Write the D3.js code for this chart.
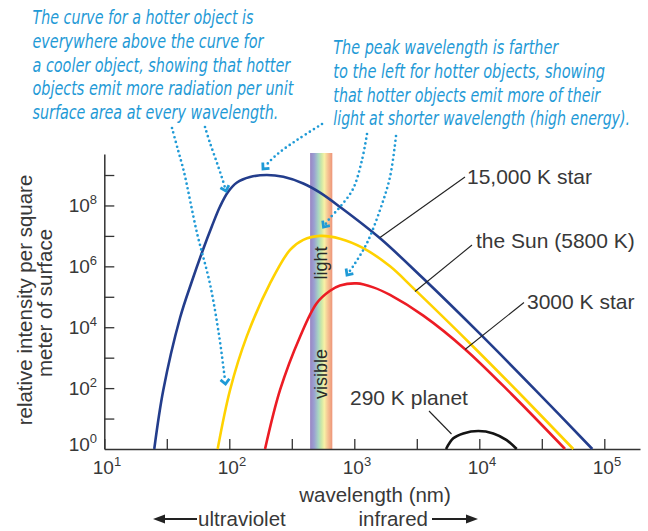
<!DOCTYPE html>
<html><head><meta charset="utf-8">
<script src="https://cdn.jsdelivr.net/npm/d3@7"></script>
<style>html,body{margin:0;padding:0;background:#fff;} svg{display:block;}</style>
</head><body>
<svg id="chart" width="648" height="531"></svg>
<script>
// ---------- data ----------
const hotWavelength  = [25.1, 29.65, 40.33, 50.3, 61.9, 72.7, 84.3, 97.6, 115.2, 146.4, 199.1, 270.4, 390.8, 532, 769, 1607, 3565, 10140, 28380, 80170];
const hotIntensity   = [1, 86.8, 2.01e4, 3.30e5, 3.72e6, 2.12e7, 9.25e7, 2.77e8, 5.69e8, 8.63e8, 1.0e9, 8.71e8, 5.25e8, 2.63e8, 8.91e7, 8.32e6, 3.98e5, 6026, 83, 1];
const sunWavelength  = [80.7, 101.4, 137.7, 211.8, 306.2, 390.8, 532, 769, 1180, 1932, 3006, 8954, 22390, 56490];
const sunIntensity   = [1, 87, 4898, 2.75e5, 3.47e6, 7.41e6, 1.0e7, 8.13e6, 3.98e6, 1.0e6, 1.82e5, 2291, 51, 1];
const coolWavelength = [193.2, 254.7, 368.1, 500, 639.7, 769, 1045, 1419, 1932, 3565, 7691, 18160, 48530];
const coolIntensity  = [1, 87, 4898, 6.17e4, 1.58e5, 2.34e5, 2.75e5, 2.04e5, 1.15e5, 2.40e4, 1905, 63, 1];
const planetWavelength = [5420, 6194, 7447, 9817, 12940, 16560, 19910];
const planetIntensity  = [1, 2.24, 3.24, 3.89, 3.24, 1.95, 1];

const seriesNames  = ["15,000 K star", "the Sun (5800 K)", "3000 K star", "290 K planet"];
const seriesColors = ["#233d8c", "#ffd200", "#ec1c24", "#141414"];

const xLabelExponents = [1, 2, 3, 4, 5];
const xTickValues = [10, 31.62, 100, 316.2, 1000, 3162, 10000, 31620, 100000];
const yLabelExponents = [0, 2, 4, 6, 8];
const yTickValues = [10, 100, 1e3, 1e4, 1e5, 1e6, 1e7, 1e8, 1e9];
const visibleRange = [443, 667];

const noteLeft = ["The curve for a hotter object is", "everywhere above the curve for", "a cooler object, showing that hotter", "objects emit more radiation per unit", "surface area at every wavelength."];
const noteRight = ["The peak wavelength is farther", "to the left for hotter objects, showing", "that hotter objects emit more of their", "light at shorter wavelength (high energy)."];

// ---------- layout ----------
const svg = d3.select('#chart');
const FONT = "'Liberation Sans', Arial, Helvetica, sans-serif";
const TEXT = "#383838";
const NOTE = "#1f9ad6";
const x = d3.scaleLog().domain([10, 193000]).range([104.3, 640]);
const y = d3.scaleLog().domain([1, 4.9e9]).range([449, 154]);

// visible band gradient
const defs = svg.append('defs');
const grad = defs.append('linearGradient').attr('id', 'vis').attr('x1', 0).attr('x2', 1).attr('y1', 0).attr('y2', 0);
[["0", "#9a86c2"], ["0.18", "#9aa0d2"], ["0.38", "#a9d8c0"], ["0.52", "#cfe8a6"], ["0.64", "#f7f1a6"], ["0.8", "#f6c393"], ["1", "#ee9479"]]
  .forEach(s => grad.append('stop').attr('offset', s[0]).attr('stop-color', s[1]));

svg.append('rect')
  .attr('x', x(visibleRange[0])).attr('width', x(visibleRange[1]) - x(visibleRange[0]))
  .attr('y', 153).attr('height', 449 - 153)
  .attr('fill', 'url(#vis)');

const bandMid = (x(visibleRange[0]) + x(visibleRange[1])) / 2;
[["light", 263], ["visible", 374]].forEach(([t, cy]) => {
  svg.append('text').attr('transform', `translate(${bandMid + 6},${cy}) rotate(-90)`)
    .attr('text-anchor', 'middle').attr('font-family', FONT).attr('font-size', 18)
    .attr('fill', '#2a2a2a').text(t);
});

// axes
const gx = svg.append('g').attr('transform', 'translate(0,449)')
  .call(d3.axisTop(x).tickValues(xTickValues).tickSize(10).tickSizeOuter(0).tickFormat(''));
const gy = svg.append('g').attr('transform', 'translate(104.3,0)')
  .call(d3.axisRight(y).tickValues(yTickValues).tickSize(10).tickSizeOuter(0).tickFormat(''));
[gx, gy].forEach(g => {
  g.select('.domain').attr('stroke', '#333').attr('stroke-width', 1.5);
  g.selectAll('.tick line').attr('stroke', '#333').attr('stroke-width', 1.3);
});

// tick labels
yLabelExponents.forEach(e => {
  const t = svg.append('text').attr('x', 97).attr('y', y(Math.pow(10, e)) + 7 - (e === 0 ? 5 : 0))
    .attr('text-anchor', 'end').attr('font-family', FONT).attr('font-size', 19).attr('fill', TEXT);
  t.append('tspan').text('10');
  t.append('tspan').attr('dy', -8).attr('font-size', 13).text(e);
});
xLabelExponents.forEach(e => {
  const t = svg.append('text').attr('x', x(Math.pow(10, e)) - 11.5).attr('y', 474)
    .attr('font-family', FONT).attr('font-size', 19).attr('fill', TEXT);
  t.append('tspan').text('10');
  t.append('tspan').attr('dy', -8).attr('font-size', 13).text(e);
});

// axis titles
svg.append('text').attr('x', 375).attr('y', 502).attr('text-anchor', 'middle')
  .attr('font-family', FONT).attr('font-size', 20.5).attr('fill', TEXT).text('wavelength (nm)');
svg.append('text').attr('transform', 'translate(32,300) rotate(-90)').attr('text-anchor', 'middle')
  .attr('font-family', FONT).attr('font-size', 20.5).attr('fill', TEXT).text('relative intensity per square');
svg.append('text').attr('transform', 'translate(52,303) rotate(-90)').attr('text-anchor', 'middle')
  .attr('font-family', FONT).attr('font-size', 20.5).attr('fill', TEXT).text('meter of surface');

// ultraviolet / infrared
svg.append('text').attr('x', 198).attr('y', 526).attr('font-family', FONT).attr('font-size', 20.5).attr('fill', TEXT).text('ultraviolet');
svg.append('text').attr('x', 428).attr('y', 526).attr('text-anchor', 'end').attr('font-family', FONT).attr('font-size', 20.5).attr('fill', TEXT).text('infrared');
const arrowY = 519;
svg.append('line').attr('x1', 160).attr('x2', 197).attr('y1', arrowY).attr('y2', arrowY).attr('stroke', '#222').attr('stroke-width', 2.2);
svg.append('path').attr('d', `M153,${arrowY} L165,${arrowY - 4.5} L165,${arrowY + 4.5} Z`).attr('fill', '#222');
svg.append('line').attr('x1', 432).attr('x2', 470).attr('y1', arrowY).attr('y2', arrowY).attr('stroke', '#222').attr('stroke-width', 2.2);
svg.append('path').attr('d', `M478,${arrowY} L466,${arrowY - 4.5} L466,${arrowY + 4.5} Z`).attr('fill', '#222');

// curves
const series = [
  [hotWavelength, hotIntensity],
  [sunWavelength, sunIntensity],
  [coolWavelength, coolIntensity],
  [planetWavelength, planetIntensity]
];
const line = d3.line().x(d => x(d[0])).y(d => y(d[1])).curve(d3.curveCatmullRom.alpha(0.5));
series.forEach((s, i) => {
  const pts = s[0].map((w, j) => [w, s[1][j]]);
  svg.append('path').attr('d', line(pts)).attr('fill', 'none')
    .attr('stroke', seriesColors[i]).attr('stroke-width', 2.6);
});

// curve labels with leader lines
const labelSpecs = [
  {from: [380, 237.5], to: [465, 177], tx: 467, ty: 183.5},
  {from: [415, 291.5], to: [472, 245], tx: 476, ty: 248},
  {from: [465, 349.5], to: [524, 302.5], tx: 527, ty: 308.5},
  {from: [451.5, 434], to: [429, 411], tx: 350, ty: 405}
];
labelSpecs.forEach((l, i) => {
  svg.append('line').attr('x1', l.from[0]).attr('y1', l.from[1]).attr('x2', l.to[0]).attr('y2', l.to[1])
    .attr('stroke', '#222').attr('stroke-width', 1.1);
  svg.append('text').attr('x', l.tx).attr('y', l.ty).attr('font-family', FONT).attr('font-size', 21)
    .attr('fill', TEXT).text(seriesNames[i]);
});

// annotation notes (condensed italic: natural text scaled horizontally to the measured width)
const NOTEFONT = "'Liberation Sans Narrow', 'DejaVu Sans Condensed', 'Liberation Sans', sans-serif";
function note(lines, widths, x0, y0) {
  lines.forEach((t, i) => {
    const el = svg.append('text').attr('x', 0).attr('y', 0)
      .attr('font-family', NOTEFONT).attr('font-style', 'italic').attr('font-size', 19.5)
      .attr('fill', NOTE).text(t);
    const w = el.node().getComputedTextLength() || widths[i];
    const sx = widths[i] / w;
    el.attr('transform', `translate(${x0},${y0 + i * 23.8}) scale(${sx},1)`);
  });
}
note(noteLeft, [221, 231, 258, 261, 246], 32.5, 24);
note(noteRight, [225, 272, 267, 297], 333.3, 54);

// dotted annotation arrows
const arrows = [
  [[172, 128], [178, 150], [184, 172], [197, 233], [210, 284], [219, 335], [224, 372], [225.5, 384]],
  [[205, 127], [210, 143], [217, 163], [223, 181], [226, 191]],
  [[322, 124], [297, 140], [280, 152], [270, 161], [263, 169]],
  [[367, 134], [362, 160], [353, 189], [340, 207], [330, 218], [323.5, 227]],
  [[396, 136], [390, 177], [380, 210], [367, 243], [354, 265], [347, 275]]
];
const curveArrow = d3.line().curve(d3.curveCatmullRom.alpha(0.5));
arrows.forEach(pts => {
  const n = pts.length;
  const tip = pts[n - 1], prev = pts[n - 2];
  const ang = Math.atan2(tip[1] - prev[1], tip[0] - prev[0]);
  const ux = Math.cos(ang), uy = Math.sin(ang);
  const body = pts.slice(0, n - 1).concat([[tip[0] - ux * 4, tip[1] - uy * 4]]);
  svg.append('path').attr('d', curveArrow(body)).attr('fill', 'none')
    .attr('stroke', NOTE).attr('stroke-width', 2.7).attr('stroke-linecap', 'round')
    .attr('stroke-dasharray', '0 4.8');
  const L = 6.5, a = 0.75;
  const p1 = [tip[0] - L * Math.cos(ang - a), tip[1] - L * Math.sin(ang - a)];
  const p2 = [tip[0] - L * Math.cos(ang + a), tip[1] - L * Math.sin(ang + a)];
  svg.append('path').attr('d', `M${p1[0]},${p1[1]} L${tip[0]},${tip[1]} L${p2[0]},${p2[1]}`)
    .attr('fill', 'none').attr('stroke', NOTE).attr('stroke-width', 2.8).attr('stroke-linejoin', 'miter');
});
</script>
</body></html>
